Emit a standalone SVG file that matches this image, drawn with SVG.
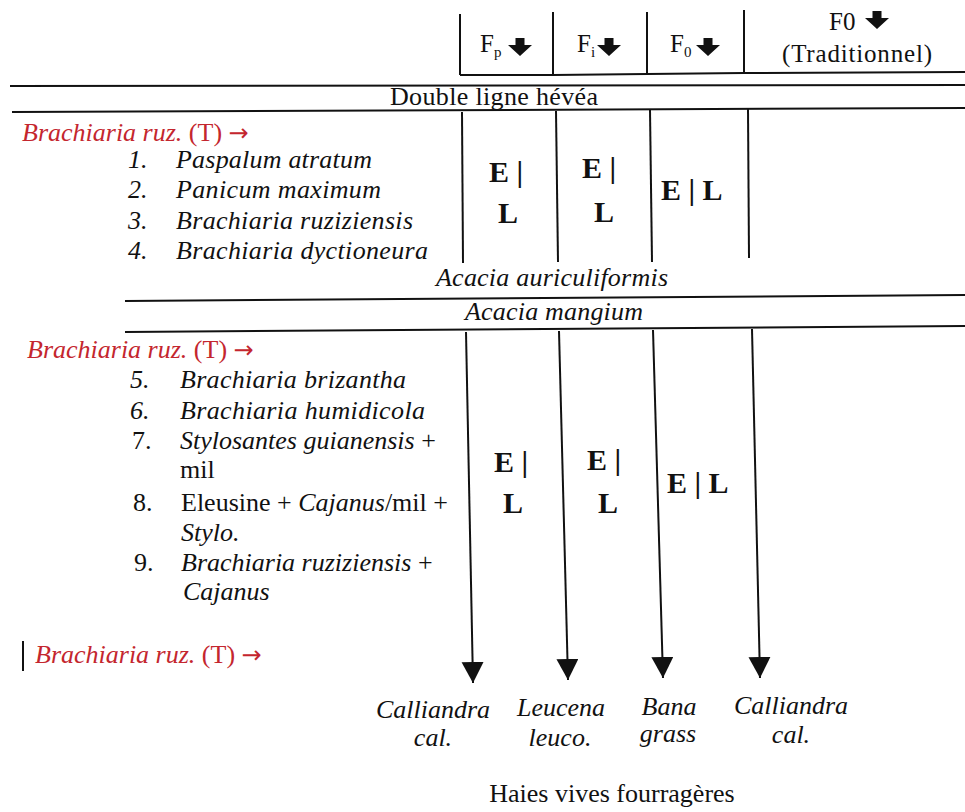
<svg xmlns="http://www.w3.org/2000/svg" width="965" height="812" viewBox="0 0 965 812">
<style>
  .ln { stroke:#111; stroke-width:2; fill:none; }
  .t { font-family:"Liberation Serif","Times New Roman",serif; font-size:26px; fill:#111; }
  .i { font-style:italic; }
  .red { fill:#c4262e; }
  .ar { font-family:"DejaVu Sans",sans-serif; font-size:24px; }
  .el { font-family:"Liberation Serif","Times New Roman",serif; font-size:30px; font-weight:bold; fill:#111; }
  .hd { font-family:"Liberation Serif","Times New Roman",serif; font-size:25px; fill:#111; }
  .sub { font-size:15px; }
</style>
<defs>
  <path id="harrow" d="M-4.5,0 H4.5 V7 H12 L0,18 L-12,7 H-4.5 Z" fill="#111"/>
  <marker id="tri" markerUnits="userSpaceOnUse" markerWidth="24" markerHeight="24" refX="21" refY="11" orient="auto">
    <path d="M0,0 L21,11 L0,22 Z" fill="#111"/>
  </marker>
</defs>

<g id="grid">
  <line class="ln" x1="460" y1="14" x2="460" y2="75"/>
  <line class="ln" x1="553" y1="12" x2="553" y2="75"/>
  <line class="ln" x1="647" y1="12" x2="647" y2="74"/>
  <line class="ln" x1="744" y1="10" x2="744" y2="73"/>
  <polyline class="ln" points="460,75 553,75 647,74 744,73 965,72"/>
  <line class="ln" x1="10" y1="86" x2="965" y2="85"/>
  <line class="ln" x1="12" y1="112" x2="965" y2="108"/>
  <line class="ln" x1="462" y1="112" x2="463" y2="263"/>
  <line class="ln" x1="556" y1="111" x2="558" y2="262"/>
  <line class="ln" x1="650" y1="110" x2="652" y2="262"/>
  <line class="ln" x1="748" y1="109" x2="749" y2="258"/>
  <line class="ln" x1="125" y1="301" x2="965" y2="295"/>
  <line class="ln" x1="125" y1="332" x2="965" y2="326"/>
</g>

<g id="header">
  <text class="hd" x="480" y="52">F<tspan class="sub" dy="5">p</tspan></text>
  <use href="#harrow" x="520" y="38"/>
  <text class="hd" x="577" y="52">F<tspan class="sub" dy="5">i</tspan></text>
  <use href="#harrow" x="609" y="38"/>
  <text class="hd" x="670" y="52">F<tspan class="sub" dy="5">0</tspan></text>
  <use href="#harrow" x="708" y="38"/>
  <text class="hd" x="829" y="30">F0</text>
  <use href="#harrow" x="877" y="11"/>
  <text class="hd" x="782" y="62" textLength="150">(Traditionnel)</text>
</g>

<g id="band-hevea">
  <text class="t" x="390" y="105" textLength="208">Double ligne hévéa</text>
</g>

<g id="list-top">
  <text class="t red" x="22" y="141"><tspan class="i">Brachiaria ruz.</tspan> (T) <tspan class="ar">→</tspan></text>
  <text class="t i" x="128" y="168">1.</text>
  <text class="t i" x="176" y="168" textLength="196">Paspalum atratum</text>
  <text class="t i" x="128" y="198">2.</text>
  <text class="t i" x="176" y="198" textLength="205">Panicum maximum</text>
  <text class="t i" x="128" y="229">3.</text>
  <text class="t i" x="176" y="229" textLength="237">Brachiaria ruziziensis</text>
  <text class="t i" x="128" y="259">4.</text>
  <text class="t i" x="176" y="259" textLength="252">Brachiaria dyctioneura</text>
</g>

<g id="el-top">
  <text class="el" x="489" y="182">E |</text>
  <text class="el" x="498" y="223">L</text>
  <text class="el" x="582" y="178">E |</text>
  <text class="el" x="594" y="222">L</text>
  <text class="el" x="661" y="200">E | L</text>
</g>

<g id="acacia">
  <text class="t i" x="436" y="286" textLength="232">Acacia auriculiformis</text>
  <text class="t i" x="465" y="320" textLength="178">Acacia mangium</text>
</g>

<g id="list-bottom">
  <text class="t red" x="27" y="358"><tspan class="i">Brachiaria ruz.</tspan> (T) <tspan class="ar">→</tspan></text>
  <text class="t i" x="130" y="388">5.</text>
  <text class="t i" x="180" y="388" textLength="226">Brachiaria brizantha</text>
  <text class="t i" x="130" y="419">6.</text>
  <text class="t i" x="180" y="419" textLength="245">Brachiaria humidicola</text>
  <text class="t" x="132" y="449">7.</text>
  <text class="t" x="180" y="449"><tspan class="i">Stylosantes guianensis</tspan> +</text>
  <text class="t" x="180" y="478">mil</text>
  <text class="t" x="133" y="511">8.</text>
  <text class="t" x="181" y="511">Eleusine + <tspan class="i">Cajanus</tspan>/mil +</text>
  <text class="t i" x="181" y="541">Stylo.</text>
  <text class="t" x="134" y="571">9.</text>
  <text class="t" x="181" y="571"><tspan class="i">Brachiaria ruziziensis</tspan> +</text>
  <text class="t i" x="183" y="600">Cajanus</text>
  <line class="ln" x1="23" y1="641" x2="23" y2="671"/>
  <text class="t red" x="35" y="663"><tspan class="i">Brachiaria ruz.</tspan> (T) <tspan class="ar">→</tspan></text>
</g>

<g id="el-bottom">
  <text class="el" x="494" y="472">E |</text>
  <text class="el" x="503" y="513">L</text>
  <text class="el" x="587" y="470">E |</text>
  <text class="el" x="598" y="513">L</text>
  <text class="el" x="667" y="493">E | L</text>
</g>

<g id="connectors">
  <line class="ln" x1="466" y1="332" x2="473" y2="683" marker-end="url(#tri)"/>
  <line class="ln" x1="559" y1="331" x2="568" y2="680" marker-end="url(#tri)"/>
  <line class="ln" x1="653" y1="330" x2="663" y2="678" marker-end="url(#tri)"/>
  <line class="ln" x1="752" y1="329" x2="760" y2="678" marker-end="url(#tri)"/>
</g>

<g id="label-calliandra1">
  <text class="t i" x="433" y="718" text-anchor="middle">Calliandra</text>
  <text class="t i" x="433" y="746" text-anchor="middle">cal.</text>
</g>
<g id="label-leucena">
  <text class="t i" x="561" y="716" text-anchor="middle">Leucena</text>
  <text class="t i" x="560" y="746" text-anchor="middle">leuco.</text>
</g>
<g id="label-bana">
  <text class="t i" x="669" y="715" text-anchor="middle">Bana</text>
  <text class="t i" x="668" y="742" text-anchor="middle">grass</text>
</g>
<g id="label-calliandra2">
  <text class="t i" x="791" y="714" text-anchor="middle">Calliandra</text>
  <text class="t i" x="791" y="743" text-anchor="middle">cal.</text>
</g>
<g id="caption">
  <text class="t" x="612" y="802" text-anchor="middle">Haies vives fourragères</text>
</g>
</svg>
